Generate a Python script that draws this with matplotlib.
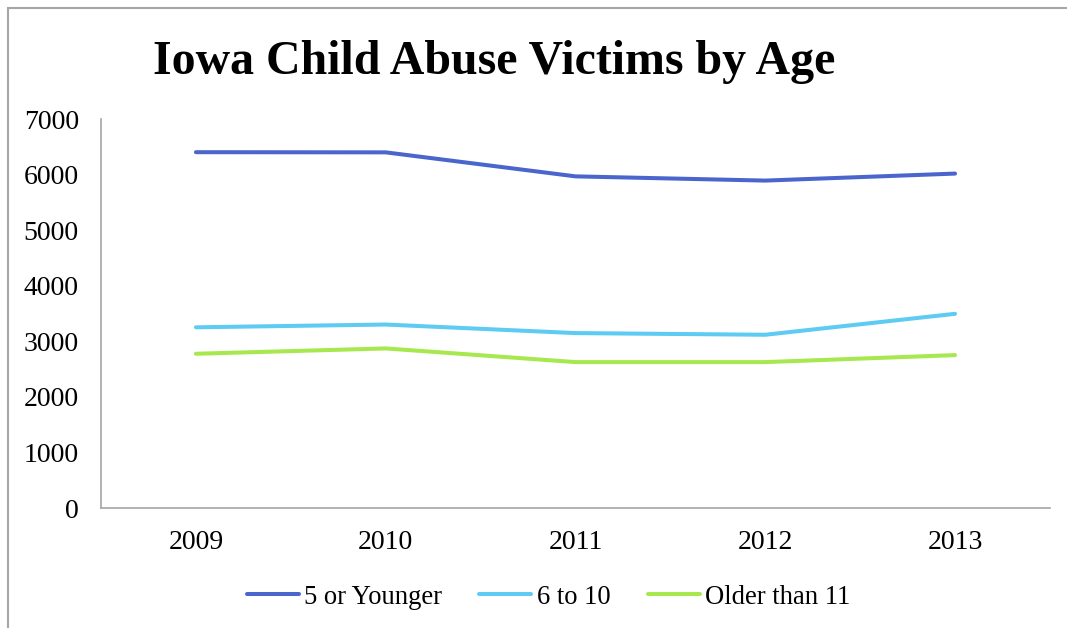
import matplotlib
matplotlib.use("Agg")
import matplotlib.pyplot as plt
from matplotlib.patches import Rectangle

years = ["2009", "2010", "2011", "2012", "2013"]
young = [6403, 6400, 5968, 5892, 6018]
mid = [3252, 3302, 3148, 3118, 3495]
older = [2776, 2872, 2626, 2626, 2752]

series = [
    ("5 or Younger", young, "#4A66CC"),
    ("6 to 10", mid, "#5DCBF2"),
    ("Older than 11", older, "#A6E84E"),
]

plt.rcParams["font.family"] = ["Liberation Serif", "DejaVu Serif"]

fig = plt.figure(figsize=(10.67, 6.28), dpi=100)
ax = fig.add_axes([0.0947, 0.191, 0.8893, 0.6195])

xs = range(len(years))
for name, vals, col in series:
    ax.plot(xs, vals, color=col, lw=2.9, solid_capstyle="round", label=name)

ax.set_xlim(-0.5, len(years) - 0.5)
ax.set_ylim(0, 7000)
ax.set_yticks(range(0, 7001, 1000))
ax.set_xticks(list(xs))
ax.set_xticklabels(years)
ax.tick_params(length=0, labelsize=20, colors="black")
ax.tick_params(axis="x", pad=16)
ax.tick_params(axis="y", pad=16)
for s in ["top", "right"]:
    ax.spines[s].set_visible(False)
for s in ["left", "bottom"]:
    ax.spines[s].set_color("#A6A6A6")
    ax.spines[s].set_linewidth(1.2)

fig.text(0.463, 0.902, "Iowa Child Abuse Victims by Age", ha="center", va="center",
         fontsize=34.5, fontweight="bold")

fig.legend(loc="center", bbox_to_anchor=(0.514, 0.049), ncol=3, frameon=False,
           fontsize=19.2, handlelength=1.95, handletextpad=0.2, columnspacing=1.4)

# chart area border (only top and left are visible in the crop)
fig.patches.append(Rectangle((0.0075, -0.1), 1.1, 1.0873, transform=fig.transFigure,
                             fill=False, edgecolor="#A6A6A6", lw=1.5))

fig.savefig("out.png", dpi=100)
